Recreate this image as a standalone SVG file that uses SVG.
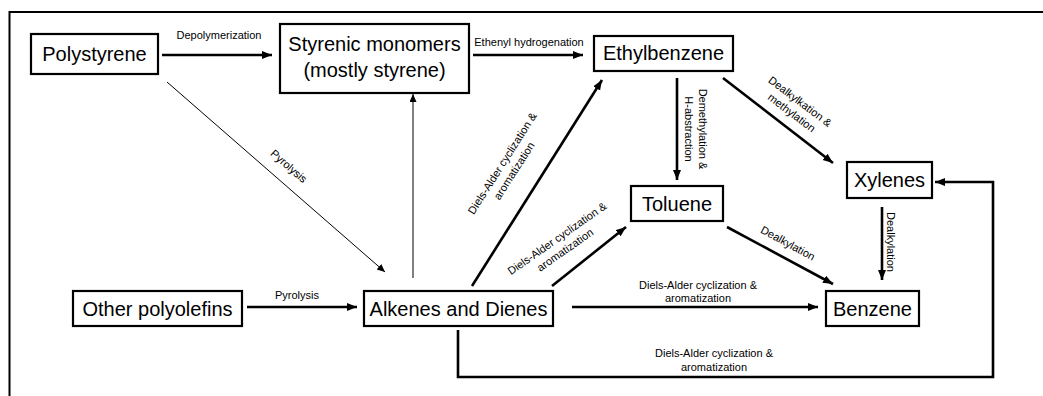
<svg xmlns="http://www.w3.org/2000/svg" width="1043" height="396" viewBox="0 0 1043 396">
<style>
.box{fill:#fff;stroke:#000;stroke-width:2.2}
.nt{font-family:"Liberation Sans",Arial,sans-serif;font-size:20px;fill:#000;text-anchor:middle}
.lb{font-family:"Liberation Sans",Arial,sans-serif;font-size:11px;fill:#000;text-anchor:middle}
.thick{fill:none;stroke:#000;stroke-width:2.6}
.thin{fill:none;stroke:#000;stroke-width:1}
</style>
<defs>
<marker id="ah" markerUnits="userSpaceOnUse" markerWidth="11" markerHeight="9" refX="10" refY="4" orient="auto">
<path d="M0,0 L10,4 L0,8 z" fill="#000"/>
</marker>
<marker id="ahs" markerUnits="userSpaceOnUse" markerWidth="9" markerHeight="8" refX="8" refY="3.5" orient="auto">
<path d="M0,0 L8,3.5 L0,7 z" fill="#000"/>
</marker>
</defs>
<rect width="1043" height="396" fill="#fff"/>
<path d="M9.5,396 V12 H1043" fill="none" stroke="#000" stroke-width="2"/>

<g id="connectors">
<line class="thick" x1="162" y1="55" x2="272" y2="55" marker-end="url(#ah)"/>
<line class="thick" x1="473" y1="55" x2="583" y2="55" marker-end="url(#ah)"/>
<line class="thin" x1="167" y1="82" x2="385" y2="272" marker-end="url(#ahs)"/>
<line class="thick" x1="247" y1="307" x2="357" y2="307" marker-end="url(#ah)"/>
<line class="thin" x1="413" y1="278" x2="413" y2="94" marker-end="url(#ahs)"/>
<line class="thick" x1="472" y1="286" x2="602" y2="80" marker-end="url(#ah)"/>
<line class="thick" x1="552" y1="286" x2="626" y2="227" marker-end="url(#ah)"/>
<line class="thick" x1="677" y1="78" x2="677" y2="180" marker-end="url(#ah)"/>
<line class="thick" x1="723" y1="78" x2="833" y2="163" marker-end="url(#ah)"/>
<line class="thick" x1="727" y1="227" x2="833" y2="284" marker-end="url(#ah)"/>
<line class="thick" x1="882" y1="207" x2="882" y2="280" marker-end="url(#ah)"/>
<line class="thick" x1="572" y1="307" x2="818" y2="307" marker-end="url(#ah)"/>
<path class="thick" d="M458,330 V377 H993 V182 H935" marker-end="url(#ah)"/>

<text class="lb" x="219" y="39">Depolymerization</text>
<text class="lb" x="529" y="46">Ethenyl hydrogenation</text>
<text class="lb" x="297" y="299">Pyrolysis</text>
<text class="lb" transform="translate(289,166) rotate(41)" y="4">Pyrolysis</text>
<g transform="translate(508,167) rotate(-57.5)">
<text class="lb" y="-3">Diels-Alder cyclization &amp;</text>
<text class="lb" y="11">aromatization</text>
</g>
<g transform="translate(561,244) rotate(-35)">
<text class="lb" y="-3">Diels-Alder cyclization &amp;</text>
<text class="lb" y="11">aromatization</text>
</g>
<g transform="translate(796,107) rotate(37)">
<text class="lb" y="-3">Dealkylkation &amp;</text>
<text class="lb" y="11">methylation</text>
</g>
<g transform="translate(696,129) rotate(90)">
<text class="lb" y="-3">Demethylation &amp;</text>
<text class="lb" y="11">H-abstraction</text>
</g>
<text class="lb" transform="translate(788,243) rotate(28.5)" y="4">Dealkylation</text>
<text class="lb" transform="translate(891,242) rotate(90)" y="4">Dealkylation</text>
<text class="lb" x="698" y="289">Diels-Alder cyclization &amp;</text>
<text class="lb" x="698" y="302">aromatization</text>
<text class="lb" x="714" y="357">Diels-Alder cyclization &amp;</text>
<text class="lb" x="714" y="371">aromatization</text>
</g>

<g id="polystyrene"><rect class="box" x="31" y="34" width="127" height="40"/><text class="nt" x="94.5" y="61">Polystyrene</text></g>
<g id="styrenic"><rect class="box" x="280" y="24" width="189" height="69"/><text class="nt" x="374.5" y="51">Styrenic monomers</text><text class="nt" x="374.5" y="77">(mostly styrene)</text></g>
<g id="ethylbenzene"><rect class="box" x="594" y="36" width="139" height="35"/><text class="nt" x="663.5" y="60">Ethylbenzene</text></g>
<g id="xylenes"><rect class="box" x="847" y="162" width="85" height="36"/><text class="nt" x="889.5" y="187">Xylenes</text></g>
<g id="toluene"><rect class="box" x="631" y="186" width="92" height="35"/><text class="nt" x="677" y="211">Toluene</text></g>
<g id="benzene"><rect class="box" x="826" y="291" width="93" height="35"/><text class="nt" x="872.5" y="316">Benzene</text></g>
<g id="alkenes"><rect class="box" x="364" y="291" width="189" height="35"/><text class="nt" x="458.5" y="316">Alkenes and Dienes</text></g>
<g id="otherpolyolefins"><rect class="box" x="73" y="291" width="169" height="35"/><text class="nt" x="157.5" y="316">Other polyolefins</text></g>
</svg>
